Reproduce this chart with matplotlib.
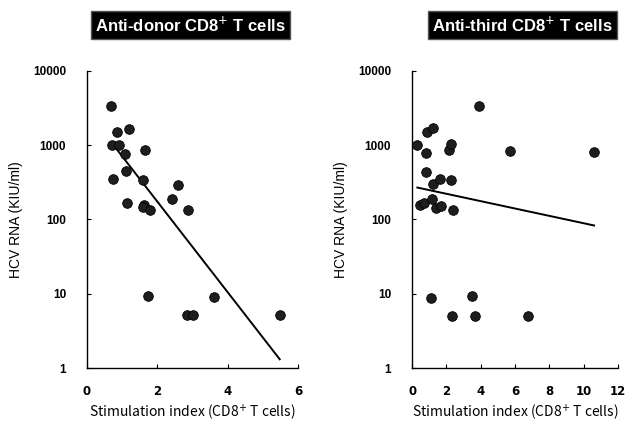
import numpy as np
import matplotlib
matplotlib.use("Agg")
import matplotlib.pyplot as plt

# Anti-donor panel (stimulation index vs HCV RNA)
donor_si = [0.68, 0.84, 1.2, 0.72, 0.92, 1.08, 1.65, 0.75, 1.1, 1.6, 2.59, 2.42,
            1.14, 1.62, 1.6, 1.79, 2.86, 1.74, 3.61, 2.85, 3.0, 5.48]
donor_rna = [3400, 1500, 1650, 1000, 1000, 770, 850, 350, 450, 345, 295, 190,
             168, 159, 147, 136, 136, 9.2, 9.0, 5.1, 5.1, 5.1]

# Anti-third panel
third_si = [0.27, 0.85, 1.24, 0.81, 2.17, 2.25, 3.91, 5.72, 10.6, 0.81, 1.2, 1.63,
            2.25, 0.47, 0.72, 1.15, 1.4, 1.67, 2.37, 1.1, 3.47, 2.35, 3.67, 6.77]
third_rna = [1000, 1510, 1730, 780, 850, 1030, 3400, 830, 820, 440, 297, 350,
             345, 155, 165, 190, 144, 152, 136, 8.8, 9.2, 5, 5, 5]

# regression lines as drawn (log10 RNA = a + b * SI), and the SI span they cover
donor_fit = (3.46, -0.61)
donor_fit_span = (0.79, 5.48)
third_fit = (2.445, -0.0496)
third_fit_span = (0.31, 10.6)

titles = ["Anti-donor CD8$^{+}$ T cells", "Anti-third CD8$^{+}$ T cells"]
title_x = [0.49, 0.535]
xlim = [(0, 6), (0, 12)]
xticks = [[0, 2, 4, 6], [0, 2, 4, 6, 8, 10, 12]]
yticks = [1, 10, 100, 1000, 10000]

fig = plt.figure(figsize=(6.32, 4.25), dpi=100)
ax1 = fig.add_axes([0.1377, 0.1341, 0.3339, 0.699])
ax2 = fig.add_axes([0.652, 0.1341, 0.326, 0.699])

panels = [
    (ax1, donor_si, donor_rna, donor_fit, donor_fit_span),
    (ax2, third_si, third_rna, third_fit, third_fit_span),
]

for i, (ax, xs, ys, fit, span) in enumerate(panels):
    ax.set_yscale("log")
    ax.set_ylim(1, 10000)
    ax.set_xlim(*xlim[i])
    ax.scatter(xs, ys, s=48, color="#1e1e1e", edgecolor="black",
               linewidth=0.6, zorder=3, clip_on=False)
    xl = np.array(span)
    ax.plot(xl, 10 ** (fit[0] + fit[1] * xl), color="black", lw=1.4, zorder=2)

    ax.spines["top"].set_visible(False)
    ax.spines["right"].set_visible(False)
    ax.spines["left"].set_linewidth(1.0)
    ax.spines["bottom"].set_linewidth(1.0)
    ax.set_yticks(yticks)
    ax.set_yticklabels([str(t) for t in yticks])
    ax.yaxis.set_minor_locator(matplotlib.ticker.NullLocator())
    ax.set_xticks(xticks[i])
    ax.tick_params(direction="in", length=3, width=0.8)
    ax.tick_params(axis="y", pad=15)
    ax.tick_params(axis="x", pad=12)
    for lab in ax.get_yticklabels():
        lab.set_fontfamily("Liberation Sans")
        lab.set_fontweight("bold")
        lab.set_fontsize(8.5)
    for lab in ax.get_xticklabels():
        lab.set_fontfamily("DejaVu Sans")
        lab.set_fontweight("bold")
        lab.set_fontsize(8.5)

    ax.set_ylabel("HCV RNA (KIU/ml)", fontfamily="Liberation Sans",
                  fontsize=10, labelpad=7)
    ax.set_xlabel("Stimulation index (CD8$^{+}$ T cells)",
                  fontfamily="Noto Sans CJK JP", fontsize=10, labelpad=3)
    ax.text(title_x[i], 1.155, titles[i], transform=ax.transAxes,
            ha="center", va="center", fontfamily="Liberation Sans",
            fontweight="bold", fontsize=12, color="white",
            bbox=dict(boxstyle="square,pad=0.25", facecolor="black",
                      edgecolor="#555555"))

fig.savefig("out.png", dpi=100, facecolor="white")
